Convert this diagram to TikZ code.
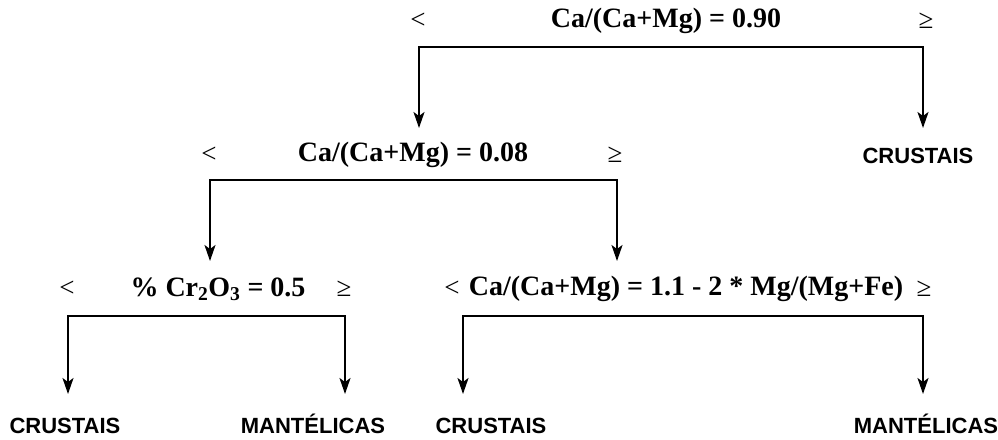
\documentclass[tikz,border=0pt]{standalone}
\usepackage{fontspec}
\setmainfont{Liberation Serif}
\newfontfamily\leaffont{Liberation Sans}
\usetikzlibrary{arrows.meta}

\tikzset{
  cond/.style={font=\fontsize{28}{31}\selectfont\bfseries, inner sep=0pt},
  rel/.style={font=\fontsize{27}{30}\selectfont, inner sep=0pt},
  leaf/.style={font=\leaffont\fontsize{22}{26}\selectfont\bfseries, inner sep=0pt, anchor=base},
  link/.style={line width=2pt, {Stealth[length=16pt,width=11pt,inset=4pt]}-{Stealth[length=16pt,width=11pt,inset=4pt]}}
}

\begin{document}
\begin{tikzpicture}[x=1pt, y=-1pt]
  \useasboundingbox (0,0) rectangle (998,439);
  % Conditions
  \node[cond] (c0) at (666,21) {Ca/(Ca+Mg) = 0.90};
  \node[rel] (c0-lt) at (418,21) {<};
  \node[rel] (c0-ge) at (926,21) {≥};
  \node[cond] (c1) at (413,155) {Ca/(Ca+Mg) = 0.08};
  \node[rel] (c1-lt) at (209,155) {<};
  \node[rel] (c1-ge) at (615,155) {≥};
  \node[cond] (c2) at (218,289) {\% Cr$_{\mathbf{2}}$O$_{\mathbf{3}}$ = 0.5};
  \node[rel] (c2-lt) at (67,289) {<};
  \node[rel] (c2-ge) at (344,289) {≥};
  \node[cond] (c3) at (686,289) {Ca/(Ca+Mg) = 1.1 - 2 * Mg/(Mg+Fe)};
  \node[rel] (c3-lt) at (452,289) {<};
  \node[rel] (c3-ge) at (924,289) {≥};
  % Leaves
  \node[leaf] (l0) at (918,163) {CRUSTAIS};
  \node[leaf] (l1) at (65,433) {CRUSTAIS};
  \node[leaf] (l2) at (313,433) {MANTÉLICAS};
  \node[leaf] (l3) at (491,433) {CRUSTAIS};
  \node[leaf] (l4) at (926,433) {MANTÉLICAS};
  % Branches
  \foreach \n/\l/\r/\y/\t in {b0/419/923/47/128, b1/210/617/180/261, b2/68/345/316/394, b3/463/923/316/394} {
    \coordinate (\n-tl) at (\l,\t);
    \coordinate (\n-cl) at (\l,\y);
    \coordinate (\n-cr) at (\r,\y);
    \coordinate (\n-tr) at (\r,\t);
    \draw[link] (\n-tl) -- (\n-cl) -- (\n-cr) -- (\n-tr);
  }
\end{tikzpicture}
\end{document}
